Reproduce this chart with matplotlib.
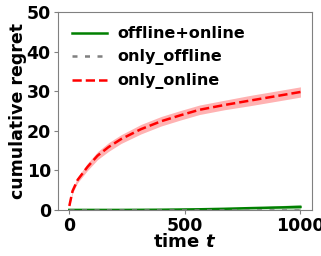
import matplotlib
matplotlib.use("Agg")
import matplotlib.pyplot as plt
import numpy as np

t = [0, 14, 36, 79, 122, 170, 224, 310, 397, 480, 563, 670, 779, 890, 1000]
online = [1.0, 4.8, 7.6, 10.9, 13.7, 15.9, 17.9, 20.4, 22.4, 23.9, 25.3, 26.5, 27.6, 28.7, 29.8]
online_sd = [0.2, 0.5, 0.7, 0.9, 1.0, 1.1, 1.1, 1.2, 1.2, 1.2, 1.2, 1.2, 1.3, 1.3, 1.3]
combined = [0.0, 0.0, 0.0, 0.0, 0.0, 0.0, 0.0, 0.02, 0.05, 0.1, 0.16, 0.28, 0.45, 0.6, 0.75]
combined_sd = [0.0, 0.0, 0.0, 0.0, 0.0, 0.0, 0.0, 0.01, 0.03, 0.05, 0.08, 0.14, 0.22, 0.4, 0.65]
offline = [0.0] * len(t)

t = np.array(t); online = np.array(online); online_sd = np.array(online_sd)
combined = np.array(combined); combined_sd = np.array(combined_sd)

plt.rcParams['font.family'] = ['DejaVu Sans']
plt.rcParams['font.weight'] = 'bold'
fig, ax = plt.subplots(figsize=(3.21, 2.56), dpi=100)
fig.subplots_adjust(left=0.18, right=0.972, top=0.953, bottom=0.18)

ax.fill_between(t, combined - combined_sd, combined + combined_sd, color='green', alpha=0.3, lw=0)
ax.plot(t, combined, color='green', lw=1.8, label='offline+online')
ax.plot(t, offline, color='grey', lw=1.8, ls=(0, (2, 3)), label='only_offline')
ax.fill_between(t, online - online_sd, online + online_sd, color='red', alpha=0.3, lw=0)
ax.plot(t, online, color='red', lw=1.8, ls='--', label='only_online')

ax.set_ylim(0, 50)
ax.set_xlim(-50, 1050)
ax.set_xticks([0, 500, 1000])
ax.set_yticks([0, 10, 20, 30, 40, 50])
ax.tick_params(labelsize=12.5, length=3, color='grey', pad=2)
for lbl in ax.get_xticklabels() + ax.get_yticklabels():
    lbl.set_fontweight('bold')
for s in ax.spines.values():
    s.set_color('grey')
ax.set_xlabel('time $\\mathbf{\\mathit{t}}$', fontsize=13, fontweight='bold', labelpad=-1)
ax.set_ylabel('cumulative regret', fontsize=12.5, fontweight='bold', labelpad=0)
ax.legend(loc='upper left', frameon=False, prop={'weight': 'bold', 'size': 11.5}, handlelength=2.2,
          handletextpad=0.6, bbox_to_anchor=(0.0, 1.0))
fig.savefig('out.png', dpi=100)
